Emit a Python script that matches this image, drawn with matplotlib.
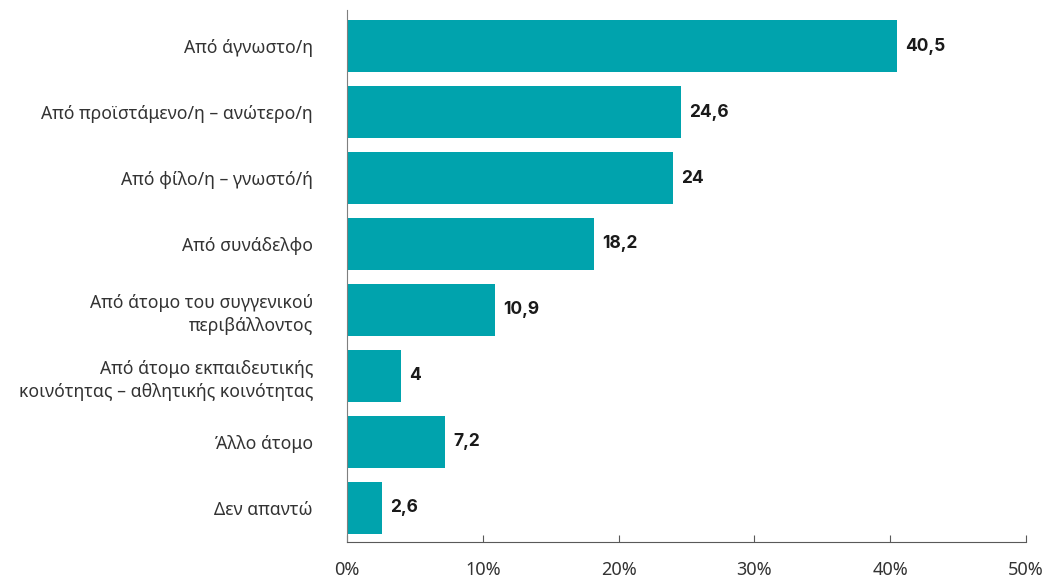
import matplotlib.pyplot as plt

categories = ['Από άγνωστο/η',
              'Από προϊστάμενο/η – ανώτερο/η',
              'Από φίλο/η – γνωστό/ή',
              'Από συνάδελφο',
              'Από άτομο του συγγενικού\nπεριβάλλοντος',
              'Από άτομο εκπαιδευτικής\nκοινότητας – αθλητικής κοινότητας',
              'Άλλο άτομο',
              'Δεν απαντώ']
values = [40.5, 24.6, 24, 18.2, 10.9, 4, 7.2, 2.6]
value_labels = ['40,5', '24,6', '24', '18,2', '10,9', '4', '7,2', '2,6']
xticks = [0, 10, 20, 30, 40, 50]

plt.rcParams['font.family'] = ['Noto Sans', 'DejaVu Sans']

fig = plt.figure(figsize=(10.5, 5.8), dpi=100)
ax = fig.add_axes([0.3305, 0.0655, 0.6465, 0.9175])

pos = range(len(categories))
ax.barh(pos, values, height=0.79, color='#00A3AD')
for p, v, t in zip(pos, values, value_labels):
    ax.text(v + 0.6, p, t, va='center', ha='left', fontsize=12.5,
            fontweight='bold', color='#1a1a1a', family=['Inter', 'DejaVu Sans'])

ax.set_yticks(list(pos))
ax.set_yticklabels(categories, fontsize=12.7, color='#333333', linespacing=1.35)
ax.set_ylim(7.52, -0.55)
ax.set_xlim(0, 50)
ax.set_xticks(xticks)
ax.set_xticklabels([f'{x}%' for x in xticks], fontsize=13, color='#333333')

for s in ['top', 'right']:
    ax.spines[s].set_visible(False)
ax.spines['left'].set_color('#7f7f7f')
ax.spines['bottom'].set_color('#595959')
ax.tick_params(axis='y', length=0, pad=24.5)
ax.tick_params(axis='x', direction='in', length=5, color='#595959', pad=14)

plt.savefig('out.png')
